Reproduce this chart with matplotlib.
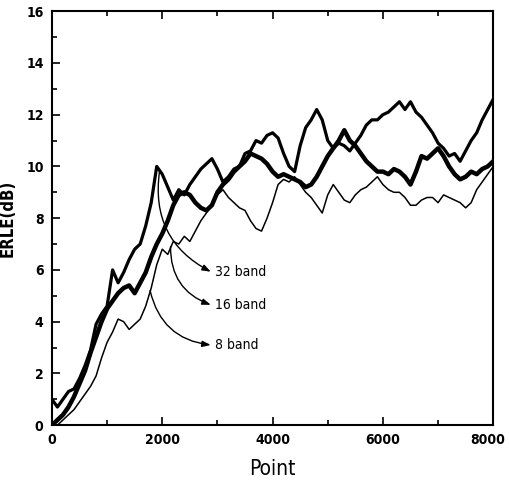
import matplotlib
matplotlib.use("Agg")
import matplotlib.pyplot as plt
from matplotlib.ticker import MultipleLocator, FixedFormatter, FixedLocator
from matplotlib import font_manager as fm

points = list(range(0, 8001, 100))
x_ticks = [0, 2000, 4000, 6000, 8000]
x_tick_labels = ["0", "2000", "4000", "6000", ""]
x_last_label = "8000"

erle_32 = [1.0, 0.7, 1.0, 1.3, 1.4, 1.8, 2.3, 2.9, 3.9, 4.3,
           4.6, 6.0, 5.5, 5.9, 6.4, 6.8, 7.0, 7.7, 8.6, 10.0,
           9.7, 9.2, 8.7, 9.1, 8.9, 9.3, 9.6, 9.9, 10.1, 10.3,
           9.9, 9.4, 9.6, 9.9, 10.0, 10.5, 10.6, 11.0, 10.9, 11.2,
           11.3, 11.1, 10.5, 10.0, 9.8, 10.8, 11.5, 11.8, 12.2, 11.8,
           11.0, 10.7, 10.9, 10.8, 10.6, 10.9, 11.2, 11.6, 11.8, 11.8,
           12.0, 12.1, 12.3, 12.5, 12.2, 12.5, 12.1, 11.9, 11.6, 11.3,
           10.9, 10.7, 10.4, 10.5, 10.2, 10.6, 11.0, 11.3, 11.8, 12.2,
           12.6]

erle_16 = [0.0, 0.2, 0.4, 0.7, 1.1, 1.6, 2.1, 2.8, 3.4, 4.0,
           4.5, 4.8, 5.1, 5.3, 5.4, 5.1, 5.5, 5.9, 6.5, 7.0,
           7.4, 7.9, 8.5, 8.9, 9.0, 8.9, 8.6, 8.4, 8.3, 8.5,
           9.0, 9.3, 9.5, 9.8, 10.0, 10.2, 10.5, 10.4, 10.3, 10.1,
           9.8, 9.6, 9.7, 9.6, 9.5, 9.4, 9.2, 9.3, 9.6, 10.0,
           10.4, 10.7, 11.0, 11.4, 11.0, 10.8, 10.5, 10.2, 10.0, 9.8,
           9.8, 9.7, 9.9, 9.8, 9.6, 9.3, 9.8, 10.4, 10.3, 10.5,
           10.7, 10.4, 10.0, 9.7, 9.5, 9.6, 9.8, 9.7, 9.9, 10.0,
           10.2]

erle_8 = [0.0, 0.0, 0.2, 0.4, 0.6, 0.9, 1.2, 1.5, 1.9, 2.6,
          3.2, 3.6, 4.1, 4.0, 3.7, 3.9, 4.1, 4.6, 5.3, 6.2,
          6.8, 6.6, 7.1, 7.0, 7.3, 7.1, 7.5, 7.9, 8.2, 8.5,
          8.9, 9.1, 8.8, 8.6, 8.4, 8.3, 7.9, 7.6, 7.5, 8.0,
          8.6, 9.3, 9.5, 9.4, 9.6, 9.3, 9.0, 8.8, 8.5, 8.2,
          8.9, 9.3, 9.0, 8.7, 8.6, 8.9, 9.1, 9.2, 9.4, 9.6,
          9.3, 9.1, 9.0, 9.0, 8.8, 8.5, 8.5, 8.7, 8.8, 8.8,
          8.6, 8.9, 8.8, 8.7, 8.6, 8.4, 8.6, 9.1, 9.4, 9.7,
          10.0]

band_labels = ["32 band", "16 band", "8 band"]
arrow_starts = [(1950, 9.8), (2150, 6.9), (1780, 5.2)]
label_pos = [(2880, 5.93), (2880, 4.65), (2880, 3.1)]


def fp(size, weight='normal'):
    return fm.FontProperties(family='DejaVu Sans', stretch='condensed',
                             size=size, weight=weight)


fig = plt.figure(figsize=(5.09, 4.87), dpi=100)
ax = fig.add_axes([0.102, 0.127, 0.867, 0.850])

ax.plot(points, erle_8, color='black', lw=1.1)
ax.plot(points, erle_16, color='black', lw=3.2)
ax.plot(points, erle_32, color='black', lw=2.3)

for lab, st, lp in zip(band_labels, arrow_starts, label_pos):
    ax.annotate('', xy=lp, xytext=st,
                arrowprops=dict(arrowstyle='-|>,head_length=0.5,head_width=0.18',
                                color='black', lw=1.0,
                                connectionstyle='arc3,rad=0.35',
                                shrinkA=0, shrinkB=0))
    ax.text(lp[0] + 80, lp[1], lab, fontproperties=fp(10),
            va='center', ha='left')

ax.set_xlim(0, 8000)
ax.set_ylim(0, 16)
ax.xaxis.set_major_locator(FixedLocator(x_ticks))
ax.xaxis.set_major_formatter(FixedFormatter(x_tick_labels))
ax.xaxis.set_minor_locator(MultipleLocator(1000))
ax.yaxis.set_major_locator(MultipleLocator(2))
ax.yaxis.set_minor_locator(MultipleLocator(1))
ax.tick_params(which='both', direction='in', top=True, right=False,
               width=1.2)
ax.tick_params(which='major', length=6, pad=6)
ax.tick_params(which='minor', length=3.5)
for lbl in ax.get_xticklabels() + ax.get_yticklabels():
    lbl.set_fontproperties(fp(10, 'bold'))
for sp in ax.spines.values():
    sp.set_linewidth(1.5)

ax.annotate(x_last_label, xy=(x_ticks[-1], 0), xycoords=('data', 'axes fraction'),
            xytext=(-4, -6), textcoords='offset points',
            ha='center', va='top', fontproperties=fp(10, 'bold'))

ax.set_xlabel('Point', fontproperties=fp(15), labelpad=8)
ax.set_ylabel('ERLE(dB)', fontproperties=fp(12, 'bold'))
ax.yaxis.set_label_coords(-0.08, 0.5)

fig.savefig('out.png', dpi=100)
